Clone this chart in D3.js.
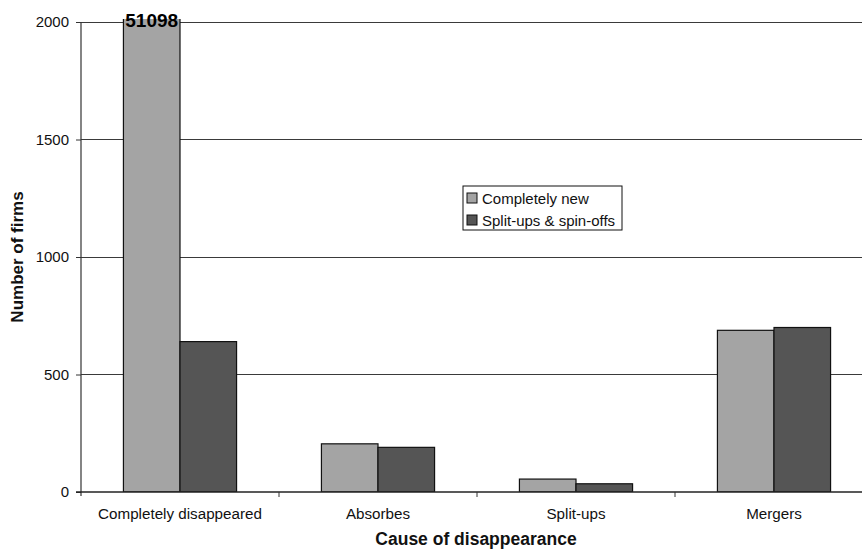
<!DOCTYPE html>
<html>
<head>
<meta charset="utf-8">
<script src="https://cdn.jsdelivr.net/npm/d3@7"></script>
<style>
  html, body { margin: 0; padding: 0; background: #fff; }
  svg { display: block; font-family: "Liberation Sans", Arial, sans-serif; }
</style>
</head>
<body>
<svg id="chart" width="862" height="550"></svg>
<script>
// Firms by cause of disappearance
const categories = ["Completely disappeared", "Absorbes", "Split-ups", "Mergers"];
const seriesNames = ["Completely new", "Split-ups & spin-offs"];
const completelyNew = [51098, 205, 55, 688];
const splitUps = [640, 190, 35, 700];
const yTicks = [0, 500, 1000, 1500, 2000];
const colors = ["#a4a4a4", "#555555"];

const svg = d3.select("#chart");
const margin = { left: 81, top: 22, right: -11, bottom: 58 };
const W = 862, H = 550;
const plotRight = W - margin.right;   // plot runs a little past the right edge
const plotBottom = H - margin.bottom;

const x = d3.scaleBand().domain(categories).range([margin.left, plotRight]).padding(0);
const xs = d3.scaleBand().domain(seriesNames).range([0, x.bandwidth()]).paddingInner(0).paddingOuter(0.75);
const y = d3.scaleLinear().domain([0, 2000]).range([plotBottom, margin.top]);

// gridlines
svg.append("g")
  .selectAll("line")
  .data(yTicks.filter(d => d > 0))
  .join("line")
  .attr("x1", margin.left).attr("x2", plotRight)
  .attr("y1", d => y(d)).attr("y2", d => y(d))
  .attr("stroke", "#3a3a3a").attr("stroke-width", 1)
  .attr("shape-rendering", "crispEdges");

// clip so the out-of-range bar stops just above the top of the value axis
svg.append("clipPath").attr("id", "plotClip")
  .append("rect")
  .attr("x", margin.left).attr("y", margin.top - 3)
  .attr("width", plotRight - margin.left).attr("height", plotBottom - margin.top + 3);

const rows = categories.map((c, i) => ({ cat: c, values: [completelyNew[i], splitUps[i]] }));

const groups = svg.append("g").attr("clip-path", "url(#plotClip)")
  .selectAll("g")
  .data(rows)
  .join("g")
  .attr("transform", d => `translate(${x(d.cat)},0)`);

groups.selectAll("rect")
  .data(d => d.values.map((v, j) => ({ series: seriesNames[j], value: v, j })))
  .join("rect")
  .attr("x", d => xs(d.series))
  .attr("width", xs.bandwidth())
  .attr("y", d => y(d.value))
  .attr("height", d => plotBottom - y(d.value))
  .attr("fill", d => colors[d.j])
  .attr("stroke", "#111")
  .attr("stroke-width", 1.2);

// value label on the clipped bar
svg.append("text")
  .attr("x", x(categories[0]) + xs(seriesNames[0]) + xs.bandwidth() / 2)
  .attr("y", margin.top + 5)
  .attr("text-anchor", "middle")
  .attr("font-size", 19)
  .attr("font-weight", "bold")
  .attr("fill", "#000")
  .text(completelyNew[0]);

// y axis
const yAxis = d3.axisLeft(y).tickValues(yTicks).tickFormat(d3.format("d"))
  .tickSize(5).tickPadding(7).tickSizeOuter(0);
const gy = svg.append("g").attr("transform", `translate(${margin.left},0)`).call(yAxis);
gy.select(".domain").remove();
gy.append("line").attr("x1", 0).attr("x2", 0).attr("y1", margin.top).attr("y2", plotBottom + 4)
  .attr("stroke", "#333").attr("stroke-width", 1.2);
gy.selectAll(".tick line").attr("stroke", "#333");
gy.selectAll(".tick text").attr("font-size", 15).attr("fill", "#111")
  .attr("font-family", "Liberation Sans, Arial, sans-serif");

// x axis baseline and category separators
const gx = svg.append("g");
gx.append("line").attr("x1", margin.left - 5).attr("x2", plotRight)
  .attr("y1", plotBottom).attr("y2", plotBottom)
  .attr("stroke", "#222").attr("stroke-width", 1.3);
gx.selectAll("line.sep")
  .data(categories.slice(1))
  .join("line").attr("class", "sep")
  .attr("x1", d => x(d)).attr("x2", d => x(d))
  .attr("y1", plotBottom).attr("y2", plotBottom + 5)
  .attr("stroke", "#333").attr("stroke-width", 1);
gx.selectAll("text")
  .data(categories)
  .join("text")
  .attr("x", d => x(d) + x.bandwidth() / 2)
  .attr("y", 519)
  .attr("text-anchor", "middle")
  .attr("font-size", 15.2)
  .attr("fill", "#111")
  .text(d => d);

// axis titles
svg.append("text")
  .attr("x", (margin.left + plotRight) / 2 - 1)
  .attr("y", 545)
  .attr("text-anchor", "middle")
  .attr("font-size", 17.5).attr("font-weight", "bold").attr("fill", "#111")
  .text("Cause of disappearance");

svg.append("text")
  .attr("transform", `translate(23,257) rotate(-90)`)
  .attr("text-anchor", "middle")
  .attr("font-size", 17).attr("font-weight", "bold").attr("fill", "#111")
  .text("Number of firms");

// legend
const legend = svg.append("g").attr("transform", "translate(463,186)");
legend.append("rect").attr("width", 159).attr("height", 44)
  .attr("fill", "#fff").attr("stroke", "#111").attr("stroke-width", 1);
const items = legend.selectAll("g.item")
  .data(seriesNames)
  .join("g").attr("class", "item")
  .attr("transform", (d, i) => `translate(4,${12 + i * 22})`);
items.append("rect")
  .attr("x", 0).attr("y", -5).attr("width", 10).attr("height", 10)
  .attr("fill", (d, i) => colors[i]).attr("stroke", "#111").attr("stroke-width", 1);
items.append("text")
  .attr("x", 15).attr("y", 5.5)
  .attr("font-size", 15).attr("fill", "#111")
  .text(d => d);
</script>
</body>
</html>
